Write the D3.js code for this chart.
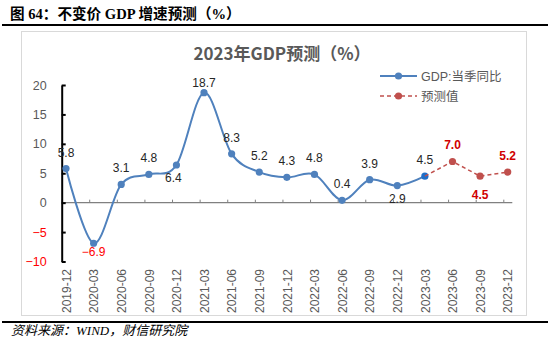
<!DOCTYPE html>
<html>
<head>
<meta charset="utf-8">
<script src="https://cdn.jsdelivr.net/npm/d3@7/dist/d3.min.js"></script>
<style>
  html, body { margin: 0; padding: 0; background: #fff; }
  svg { display: block; }
</style>
</head>
<body>
<svg id="chart" width="550" height="341"></svg>
<script>
// Quarterly GDP growth (constant prices), year-on-year, %
const categories = [
  "2019-12", "2020-03", "2020-06", "2020-09", "2020-12",
  "2021-03", "2021-06", "2021-09", "2021-12",
  "2022-03", "2022-06", "2022-09", "2022-12",
  "2023-03", "2023-06", "2023-09", "2023-12"
];
// Reported values, 2019-12 .. 2023-03
const actualValues = [5.8, -6.9, 3.1, 4.8, 6.4, 18.7, 8.3, 5.2, 4.3, 4.8, 0.4, 3.9, 2.9, 4.5];
// Forecast path, starting from the last reported quarter (2023-03 .. 2023-12)
const forecastValues = [4.5, 7.0, 4.5, 5.2];
const forecastStart = 13;
const yTicks = [20, 15, 10, 5, 0, -5, -10];

const seriesNames = ["GDP:当季同比", "预测值"];
const headerText = "图 64：不变价 GDP 增速预测（%）";
const titleText = "2023年GDP预测（%）";
const sourceText = "资料来源：WIND，财信研究院";

const BLUE = "#4F81BD", RED = "#C0504D", LABEL_RED = "#D00000", NEG_RED = "#FF0000";
const GRAY = "#595959";
const SANS = "'Liberation Sans', Arial, 'Noto Sans CJK SC', sans-serif";
const SERIF = "'Liberation Serif', 'Times New Roman', 'Noto Sans CJK SC', serif";

const svg = d3.select("#chart");

// Report header and rules
svg.append("text").attr("x", 10).attr("y", 19)
  .attr("font-family", SERIF).attr("font-weight", "bold").attr("font-size", 14.6)
  .attr("fill", "#000").text(headerText);
svg.append("line").attr("x1", 2).attr("x2", 548).attr("y1", 25).attr("y2", 25)
  .attr("stroke", "#000").attr("stroke-width", 2);
svg.append("line").attr("x1", 2).attr("x2", 548).attr("y1", 322).attr("y2", 322)
  .attr("stroke", "#000").attr("stroke-width", 2);
svg.append("text").attr("x", 11).attr("y", 335)
  .attr("font-family", SERIF).attr("font-style", "italic").attr("font-size", 13)
  .attr("fill", "#000").text(sourceText);

// Chart frame
svg.append("rect").attr("x", 21.5).attr("y", 31.5).attr("width", 505).attr("height", 284)
  .attr("fill", "#fff").attr("stroke", "#D9D9D9").attr("stroke-width", 1);

svg.append("text").attr("x", 282).attr("y", 60).attr("text-anchor", "middle")
  .attr("font-family", "'Noto Sans CJK SC', sans-serif").attr("font-weight", "bold")
  .attr("font-size", 17).attr("fill", GRAY).text(titleText);

// Scales
const x = d3.scalePoint().domain(categories).range([66, 507.7]);
const y = d3.scaleLinear().domain([-10, 20]).range([261.5, 85]);
const axisX0 = 61.7, axisX1 = 512.3, tickShift = -4.4;

// Category axis along zero: gray line with short upward ticks
const xAxisG = svg.append("g").attr("transform", `translate(${tickShift},${y(0)})`)
  .call(d3.axisTop(x).tickSize(3).tickSizeOuter(0).tickFormat(""));
xAxisG.select(".domain").remove();
xAxisG.selectAll(".tick line").attr("stroke", "#808080");
svg.append("line").attr("x1", axisX0).attr("x2", axisX1).attr("y1", y(0)).attr("y2", y(0))
  .attr("stroke", "#808080").attr("stroke-width", 1.2);

// Category labels, rotated, below the plot
const xLab = svg.append("g").attr("transform", "translate(0,269)")
  .call(d3.axisBottom(x).tickSize(0).tickPadding(0));
xLab.select(".domain").remove();
xLab.selectAll("text")
  .attr("transform", "rotate(-90)")
  .attr("x", 0).attr("y", 0).attr("dy", "0.35em")
  .attr("text-anchor", "end")
  .attr("font-family", SANS).attr("font-size", 12).attr("fill", GRAY);

// Value axis: black line, inward ticks, labels on the left
const yAxisG = svg.append("g").attr("transform", `translate(${axisX0},0)`)
  .call(d3.axisLeft(y).tickValues(yTicks).tickSizeInner(-4).tickSizeOuter(0).tickPadding(15));
yAxisG.select(".domain").attr("stroke", "#000").attr("stroke-width", 2);
yAxisG.selectAll(".tick line").attr("stroke", "#000").attr("stroke-width", 2);
yAxisG.selectAll(".tick text")
  .attr("font-family", SANS).attr("font-size", 12.5)
  .attr("fill", d => d < 0 ? NEG_RED : GRAY);

// Reported series: smoothed line with markers
const actual = actualValues.map((v, i) => ({ c: categories[i], v }));
svg.append("path").datum(actual)
  .attr("fill", "none").attr("stroke", BLUE).attr("stroke-width", 2)
  .attr("d", d3.line().x(d => x(d.c)).y(d => y(d.v)).curve(d3.curveCardinal.tension(0)));
svg.selectAll("circle.act").data(actual).enter().append("circle")
  .attr("class", "act")
  .attr("cx", d => x(d.c)).attr("cy", d => y(d.v)).attr("r", 3.6)
  .attr("fill", (d, i) => i === actual.length - 1 ? "#1F6FC8" : BLUE);

// Forecast series: dashed straight segments with markers
const forecast = forecastValues.map((v, i) => ({ c: categories[forecastStart + i], v }));
svg.append("path").datum(forecast)
  .attr("fill", "none").attr("stroke", RED).attr("stroke-width", 1.5)
  .attr("stroke-dasharray", "4,3")
  .attr("d", d3.line().x(d => x(d.c)).y(d => y(d.v)));
svg.selectAll("circle.fc").data(forecast.slice(1)).enter().append("circle")
  .attr("class", "fc")
  .attr("cx", d => x(d.c)).attr("cy", d => y(d.v)).attr("r", 3.6).attr("fill", RED);

// Data labels
const belowActual = new Set(["2020-03", "2020-12", "2022-12"]);
const labelG = svg.append("g").attr("font-family", SANS).attr("font-size", 12).attr("text-anchor", "middle");
labelG.selectAll("text.al").data(actual).enter().append("text")
  .attr("class", "al")
  .attr("x", d => x(d.c) + (d.c === "2020-12" ? -3 : 0))
  .attr("y", d => {
    if (d.c === "2020-03") return y(d.v) + 13;
    if (belowActual.has(d.c)) return y(d.v) + 17;
    if (d.c === "2021-03") return y(d.v) - 6;
    return y(d.v) - 12;
  })
  .attr("fill", d => d.v < 0 ? NEG_RED : "#262626")
  .text(d => d3.format(".1f")(d.v));

const belowForecast = new Set(["2023-09"]);
labelG.selectAll("text.fl").data(forecast.slice(1)).enter().append("text")
  .attr("class", "fl")
  .attr("x", d => x(d.c))
  .attr("y", d => belowForecast.has(d.c) ? y(d.v) + 23 : y(d.v) - 12)
  .attr("font-weight", "bold").attr("fill", LABEL_RED)
  .text(d => d3.format(".1f")(d.v));

// Legend
const legend = svg.append("g").attr("font-family", "'Liberation Sans', Arial, 'Noto Sans CJK SC', sans-serif")
  .attr("font-size", 12.5).attr("fill", GRAY);
const rows = [
  { name: seriesNames[0], color: BLUE, dash: null, w: 2, y: 76 },
  { name: seriesNames[1], color: RED, dash: "4,3", w: 1.5, y: 96 }
];
rows.forEach(r => {
  legend.append("line").attr("x1", 380).attr("x2", 417).attr("y1", r.y).attr("y2", r.y)
    .attr("stroke", r.color).attr("stroke-width", r.w).attr("stroke-dasharray", r.dash);
  legend.append("circle").attr("cx", 398.5).attr("cy", r.y).attr("r", 3.6).attr("fill", r.color);
  legend.append("text").attr("x", 421).attr("y", r.y).attr("dy", "0.36em").text(r.name);
});
</script>
</body>
</html>
